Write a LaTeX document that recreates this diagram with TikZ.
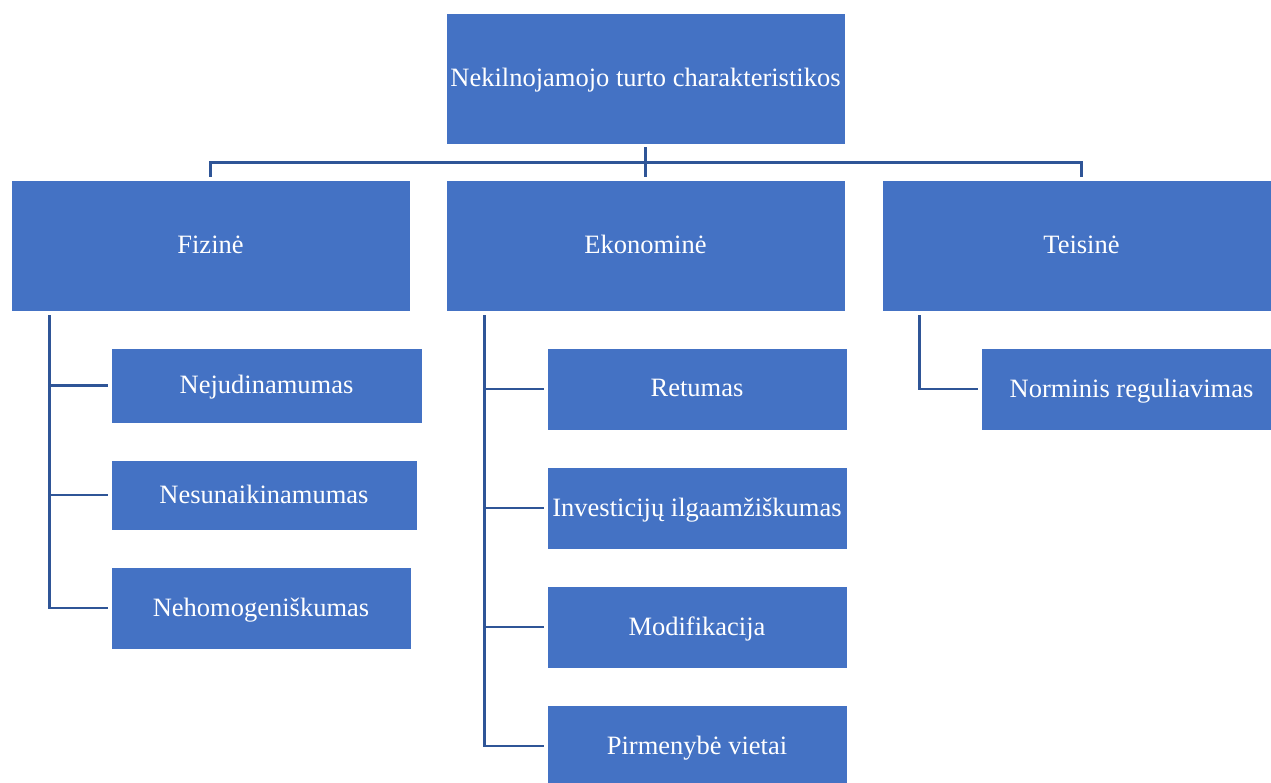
\documentclass[tikz,border=0pt]{standalone}
\usepackage{fontspec}
\setmainfont{Liberation Serif}
\usetikzlibrary{positioning, calc}
\definecolor{boxblue}{HTML}{4472C4}
\definecolor{linkblue}{HTML}{2F5597}

\begin{document}
\begin{tikzpicture}[
  x=1pt, y=-1pt,
  catbox/.style={fill=boxblue, draw=white, line width=0.6pt, text=white, inner sep=0pt,
    font=\fontsize{26.5}{30}\selectfont, align=center, text depth=2pt},
  bigbox/.style={catbox, minimum width=399pt, minimum height=131pt},
  smallbox/.style={catbox, minimum width=300pt, minimum height=82pt},
  link/.style={linkblue, line width=2.5pt},
]
\useasboundingbox (0,0) rectangle (1271,782);

% Root
\node[bigbox] (root) at (645.5,78.5) {Nekilnojamojo turto charakteristikos};

% Categories
\node[bigbox] (fiz) at (210.5,245.5) {Fizinė};
\node[bigbox] (eko) at (645.5,245.5) {Ekonominė};
\node[bigbox] (teis) at (1081.5,245.5) {Teisinė};

% Root -> categories
\draw[link, shorten >=3pt] ([yshift=-3pt]root.south) -- ++(0,15) -| (fiz.north);
\draw[link, shorten >=3pt] ([yshift=-3pt]root.south) -- (eko.north);
\draw[link, shorten >=3pt] ([yshift=-3pt]root.south) -- ++(0,15) -| (teis.north);

% Fizine items
\node[catbox, minimum width=311pt, minimum height=75pt] (nej) at (266.5,385.5) {Nejudinamumas};
\node[catbox, minimum width=306pt, minimum height=70pt] (nes) at (264,495) {Nesunaikinamumas};
\node[catbox, minimum width=300pt, minimum height=82pt] (neh) at (261,608) {Nehomogeniškumas};

% Ekonomine items
\node[smallbox] (ret) at (697,389) {Retumas};
\node[smallbox] (inv) at (697,508) {Investicijų ilgaamžiškumas};
\node[smallbox] (mod) at (697,627) {Modifikacija};
\node[smallbox] (pir) at (697,746) {Pirmenybė vietai};

% Teisine items
\node[smallbox] (norm) at (1131.5,389) {Norminis reguliavimas};

% Category -> items
\foreach \c in {nej,nes,neh}
  \draw[link, shorten >=3pt] ([xshift=39pt,yshift=-4pt]fiz.south west) |- (\c.west);
\foreach \c in {ret,inv,mod,pir}
  \draw[link, shorten >=3pt] ([xshift=39pt,yshift=-4pt]eko.south west) |- (\c.west);
\draw[link, shorten >=3pt] ([xshift=38pt,yshift=-4pt]teis.south west) |- (norm.west);

\end{tikzpicture}
\end{document}
